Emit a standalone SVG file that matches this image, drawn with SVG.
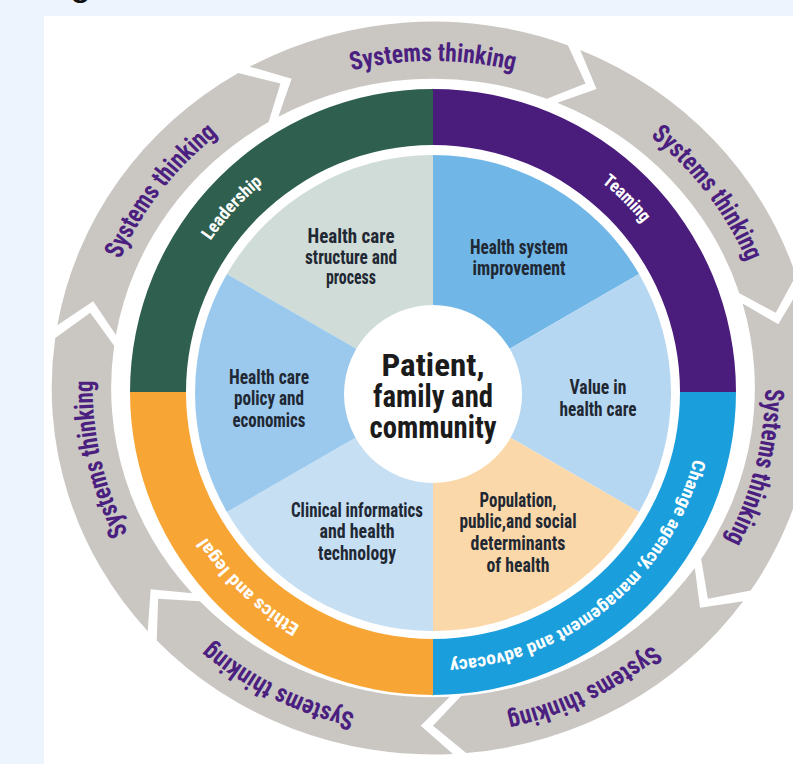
<svg xmlns="http://www.w3.org/2000/svg" width="793" height="764" viewBox="0 0 793 764">
<style>
.lbl{font-family:'Liberation Sans Narrow','Roboto Condensed','DejaVu Sans Condensed','Liberation Sans',Arial,sans-serif;font-weight:bold;}
.pie{font-size:20px;fill:#1f2833;text-anchor:middle;}
.ctr{font-size:32px;fill:#1b1b1b;text-anchor:middle;}
.ring{font-size:18px;fill:#ffffff;text-anchor:middle;}
.st{font-size:26px;fill:#4b1f7f;text-anchor:middle;}
.arrow{fill:#cac7c3;}
</style>
<defs>
<path id="arw" d="M254.28,65.74 A372,372 0 0 1 564.58,44.04 L581.82,82.96 L544.06,98.29 A314,314 0 0 0 282.14,116.61 L295.05,77.96 Z"/>
<path id="pST" d="M145.5,226 A332,332 0 0 1 720.5,226"/>
<path id="pRing" d="M200.04,257.5 A269,269 0 0 1 665.96,257.5"/>
</defs>
<rect x="0" y="0" width="793" height="764" fill="#eef4fd"/>
<rect x="44" y="16" width="749" height="748" fill="#ffffff"/>
<text x="70" y="-5" font-family="'Liberation Sans',Arial,sans-serif" font-size="38" fill="#111111">g</text>

<g id="systems-thinking-arrows" transform="translate(433 388) scale(1.025 0.985) translate(-433 -392)">
<g id="arrow-top"><use href="#arw" class="arrow" transform="rotate(0 433 392)"/><text class="lbl st" transform="rotate(0 433 392)"><textPath href="#pST" startOffset="50%" textLength="160" lengthAdjust="spacingAndGlyphs">Systems thinking</textPath></text></g>
<g id="arrow-upper-right"><use href="#arw" class="arrow" transform="rotate(51.4286 433 392)"/><text class="lbl st" transform="rotate(53.5 433 392)"><textPath href="#pST" startOffset="50%" textLength="160" lengthAdjust="spacingAndGlyphs">Systems thinking</textPath></text></g>
<g id="arrow-right"><use href="#arw" class="arrow" transform="rotate(102.857 433 392)"/><text class="lbl st" transform="translate(-8 0) rotate(104 433 392)"><textPath href="#pST" startOffset="50%" textLength="160" lengthAdjust="spacingAndGlyphs">Systems thinking</textPath></text></g>
<g id="arrow-lower-right"><use href="#arw" class="arrow" transform="rotate(154.286 433 392)"/><text class="lbl st" transform="translate(0 7) rotate(153.7 433 392)"><textPath href="#pST" startOffset="50%" textLength="160" lengthAdjust="spacingAndGlyphs">Systems thinking</textPath></text></g>
<g id="arrow-lower-left"><use href="#arw" class="arrow" transform="rotate(205.714 433 392)"/><text class="lbl st" transform="translate(0 7) rotate(207 433 392)"><textPath href="#pST" startOffset="50%" textLength="160" lengthAdjust="spacingAndGlyphs">Systems thinking</textPath></text></g>
<g id="arrow-left"><use href="#arw" class="arrow" transform="rotate(257.143 433 392)"/><text class="lbl st" transform="rotate(257.5 433 392)"><textPath href="#pST" startOffset="50%" textLength="160" lengthAdjust="spacingAndGlyphs">Systems thinking</textPath></text></g>
<g id="arrow-upper-left"><use href="#arw" class="arrow" transform="rotate(308.571 433 392)"/><text class="lbl st" transform="rotate(307 433 392)"><textPath href="#pST" startOffset="50%" textLength="160" lengthAdjust="spacingAndGlyphs">Systems thinking</textPath></text></g>
</g>

<g id="ring">
<g id="ring-leadership"><path d="M130,392 A303,303 0 0 1 433,89 L433,145 A247,247 0 0 0 186,392 Z" fill="#2f604f"/><text class="lbl ring" transform="rotate(-47.5 433 392)"><textPath href="#pRing" startOffset="50%" textLength="78" lengthAdjust="spacingAndGlyphs">Leadership</textPath></text></g>
<g id="ring-teaming"><path d="M433,89 A303,303 0 0 1 736,392 L680,392 A247,247 0 0 0 433,145 Z" fill="#4a1c7c"/><text class="lbl ring" transform="rotate(45 433 392)"><textPath href="#pRing" startOffset="50%" textLength="58" lengthAdjust="spacingAndGlyphs">Teaming</textPath></text></g>
<g id="ring-change"><path d="M736,392 A303,303 0 0 1 433,695 L433,639 A247,247 0 0 0 680,392 Z" fill="#1b9fdc"/><text class="lbl ring" transform="rotate(140.4 433 392)"><textPath href="#pRing" startOffset="50%" textLength="338" lengthAdjust="spacingAndGlyphs">Change agency, management and advocacy</textPath></text></g>
<g id="ring-ethics"><path d="M433,695 A303,303 0 0 1 130,392 L186,392 A247,247 0 0 0 433,639 Z" fill="#f7a535"/><text class="lbl ring" transform="rotate(223.5 433 392)"><textPath href="#pRing" startOffset="50%" textLength="130" lengthAdjust="spacingAndGlyphs">Ethics and legal</textPath></text></g>
</g>

<g id="pie">
<g id="seg-structure"><path d="M433,393 L226.9,274 A238,238 0 0 1 433,155 Z" fill="#d0dcd7"/>
<text class="lbl pie"><tspan x="351" y="243" textLength="87" lengthAdjust="spacingAndGlyphs">Health care</tspan><tspan x="351" y="264" textLength="92" lengthAdjust="spacingAndGlyphs">structure and</tspan><tspan x="351" y="284" textLength="50" lengthAdjust="spacingAndGlyphs">process</tspan></text></g>
<g id="seg-improvement"><path d="M433,393 L433,155 A238,238 0 0 1 639.1,274 Z" fill="#70b6e6"/>
<text class="lbl pie"><tspan x="519" y="254" textLength="98" lengthAdjust="spacingAndGlyphs">Health system</tspan><tspan x="519" y="275" textLength="93" lengthAdjust="spacingAndGlyphs">improvement</tspan></text></g>
<g id="seg-value"><path d="M433,393 L639.1,274 A238,238 0 0 1 639.1,512 Z" fill="#b6d7f2"/>
<text class="lbl pie"><tspan x="598" y="394" textLength="57" lengthAdjust="spacingAndGlyphs">Value in</tspan><tspan x="598" y="416" textLength="77" lengthAdjust="spacingAndGlyphs">health care</tspan></text></g>
<g id="seg-population"><path d="M433,393 L639.1,512 A238,238 0 0 1 433,631 Z" fill="#fbd8a9"/>
<text class="lbl pie"><tspan x="518" y="507" textLength="77" lengthAdjust="spacingAndGlyphs">Population,</tspan><tspan x="518" y="528" textLength="117" lengthAdjust="spacingAndGlyphs">public,and social</tspan><tspan x="518" y="550" textLength="95" lengthAdjust="spacingAndGlyphs">determinants</tspan><tspan x="518" y="572" textLength="63" lengthAdjust="spacingAndGlyphs">of health</tspan></text></g>
<g id="seg-clinical"><path d="M433,393 L433,631 A238,238 0 0 1 226.9,512 Z" fill="#c6dff3"/>
<text class="lbl pie"><tspan x="357" y="517" textLength="132" lengthAdjust="spacingAndGlyphs">Clinical informatics</tspan><tspan x="357" y="538" textLength="75" lengthAdjust="spacingAndGlyphs">and health</tspan><tspan x="357" y="560" textLength="78" lengthAdjust="spacingAndGlyphs">technology</tspan></text></g>
<g id="seg-policy"><path d="M433,393 L226.9,512 A238,238 0 0 1 226.9,274 Z" fill="#9bc9ee"/>
<text class="lbl pie"><tspan x="269" y="384" textLength="80" lengthAdjust="spacingAndGlyphs">Health care</tspan><tspan x="269" y="405" textLength="70" lengthAdjust="spacingAndGlyphs">policy and</tspan><tspan x="269" y="427" textLength="73" lengthAdjust="spacingAndGlyphs">economics</tspan></text></g>
</g>

<g id="center">
<circle cx="433" cy="394" r="89" fill="#ffffff"/>
<text class="lbl ctr"><tspan x="433" y="376" textLength="103" lengthAdjust="spacingAndGlyphs">Patient,</tspan><tspan x="433" y="407" textLength="120" lengthAdjust="spacingAndGlyphs">family and</tspan><tspan x="433" y="438" textLength="127" lengthAdjust="spacingAndGlyphs">community</tspan></text>
</g>
</svg>
